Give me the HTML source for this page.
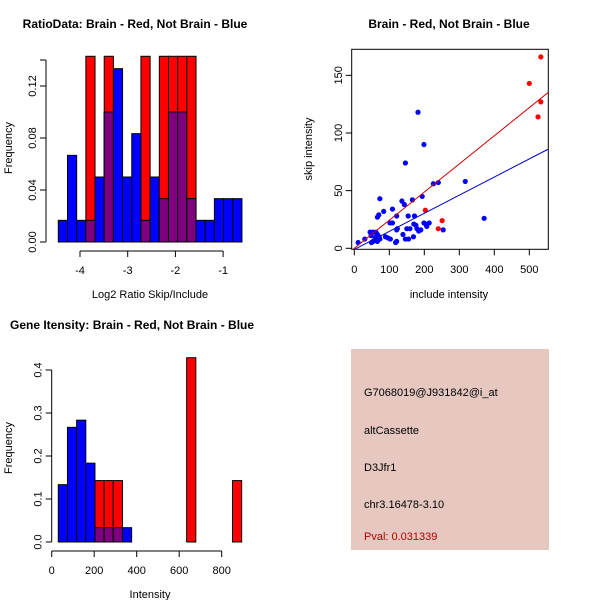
<!DOCTYPE html>
<html><head><meta charset="utf-8"><style>
body{margin:0;background:#fff}
svg text{font-family:"Liberation Sans",sans-serif;font-size:11px;fill:#000}
.t{font-weight:bold;font-size:12px}
</style></head><body>
<svg id="s" width="600" height="600" xmlns="http://www.w3.org/2000/svg">
<text class="t" x="135" y="28" text-anchor="middle">RatioData: Brain - Red, Not Brain - Blue</text>
<text class="t" x="449" y="28" text-anchor="middle">Brain - Red, Not Brain - Blue</text>
<text class="t" x="10" y="329">Gene Itensity: Brain - Red, Not Brain - Blue</text>
<text x="150" y="298" text-anchor="middle">Log2 Ratio Skip/Include</text>
<text transform="translate(12,148) rotate(-90)" text-anchor="middle">Frequency</text>
<text x="449" y="298" text-anchor="middle">include intensity</text>
<text transform="translate(312,149) rotate(-90)" text-anchor="middle">skip intensity</text>
<text x="150" y="598" text-anchor="middle">Intensity</text>
<text transform="translate(12,448) rotate(-90)" text-anchor="middle">Frequency</text>
<g>
<rect x="351" y="349" width="198" height="201" fill="#e6c8c1"/>
<text x="364" y="396">G7068019@J931842@i_at</text>
<text x="364" y="434">altCassette</text>
<text x="364" y="471">D3Jfr1</text>
<text x="364" y="508">chr3.16478-3.10</text>
<text x="364" y="540" style="fill:#b00000">Pval: 0.031339</text>
</g>
</svg>
<script>
// ratio histogram data
const ratioBreaksStart = -4.455, ratioBinW = 0.1925;
const ratioBlue = [1,4,1,1,3,6,8,3,5,1,3,2,6,6,2,1,1,2,2,2].map(v=>v/60);
const ratioRed = [0,0,0,1,0,1,0,0,0,1,0,1,1,1,1,0,0,0,0,0].map(v=>v/7);
const ratioYTicks = [0,0.04,0.08,0.12];
const ratioXTicks = [-4,-3,-2,-1];
// intensity histogram data
const intStart = 31, intBinW = 43.15;
const intBlue = [8,16,17,11,2,2,2,2,0,0,0,0,0,0,0,0,0,0,0,0].map(v=>v/60);
const intRed = [0,0,0,0,1,1,1,0,0,0,0,0,0,0,3,0,0,0,0,1].map(v=>v/7);
const intYTicks = [0,0.1,0.2,0.3,0.4];
const intXTicks = [0,200,400,600,800];
// scatter data
const redX = [500,533,533,525,203,251,240];
const redY = [143,166,127,114,33,24,17];
const blueX = [182,199,146,73,226,240,317,371,254,194,136,143,166,84,109,70,66,121,154,172,102,109,123,121,150,159,170,176,179,184,190,199,207,214,204,169,139,146,155,121,118,89,96,103,11,30,48,53,62,66,71,60,69,54,49,73,58,45,66,64];
const blueY = [118,90,74,43,56,57,58,26,16,45,41,38,42,32,34,29,27,28,28,28,22,22,17,16,17,17,21,20,17,15,16,22,19,22,21,10,12,8,8,6,5,10,9,8,5,8,11,14,14,12,10,9,8,6,5,8,7,14,6,11];
const redFit = [0, 0.244];
const blueFit = [-1, 0.157];
const sXTicks = [0,100,200,300,400,500];
const sYTicks = [0,50,100,150];

const S = document.getElementById('s');
const NS = 'http://www.w3.org/2000/svg';
function mk(tag, attrs){const e=document.createElementNS(NS,tag);for(const k in attrs)e.setAttribute(k,attrs[k]);S.appendChild(e);return e;}

function hist(o){
  const xs=v=>o.px0+(v-o.x0)*o.kx, ys=v=>o.py0-v*o.ky;
  for(let i=0;i<o.blue.length;i++){
    const l=xs(o.start+i*o.w), r=xs(o.start+(i+1)*o.w);
    const b=o.blue[i], rd=o.red[i];
    if(b>0){const e=mk('rect',{x:l,y:ys(b),width:r-l,height:ys(0)-ys(b),fill:'#0000ff',stroke:'#000','stroke-width':1});
      
      }
    if(rd>0){const e=mk('rect',{x:l,y:ys(rd),width:r-l,height:ys(0)-ys(rd),fill:'#ff0000',stroke:'#000','stroke-width':1});
      
      }
    const m=Math.min(b,rd);
    if(m>0){const e=mk('rect',{x:l,y:ys(m),width:r-l,height:ys(0)-ys(m),fill:'#7f007f',stroke:'#000','stroke-width':1});
      
      }
  }
  const ya=o.yt;
  mk('line',{x1:o.ax,y1:ys(ya[0]),x2:o.ax,y2:ys(o.ytop),stroke:'#000'});
  [...ya,o.ytop].forEach((t,j)=>{
    mk('line',{x1:o.ax-6,y1:ys(t),x2:o.ax,y2:ys(t),stroke:'#000'});
    if(j<ya.length){const e=mk('text',{transform:`translate(${o.ax-10},${ys(t)}) rotate(-90)`,'text-anchor':'middle'});e.textContent=o.yfmt(t);
      
      }
  });
  mk('line',{x1:xs(o.xt[0]),y1:o.ay,x2:xs(o.xt[o.xt.length-1]),y2:o.ay,stroke:'#000'});
  o.xt.forEach(t=>{
    mk('line',{x1:xs(t),y1:o.ay,x2:xs(t),y2:o.ay+6,stroke:'#000'});
    const e=mk('text',{x:xs(t),y:o.ay+23,'text-anchor':'middle'});e.textContent=t;
    
    
  });
}
hist({blue:ratioBlue,red:ratioRed,start:ratioBreaksStart,w:ratioBinW,px0:80,x0:-4,kx:47.7,py0:242,ky:1300,yt:ratioYTicks,ytop:0.14,yfmt:t=>t.toFixed(2),xt:ratioXTicks,ax:46,ay:251});
hist({blue:intBlue,red:intRed,start:intStart,w:intBinW,px0:51.7,x0:0,kx:170/800,py0:542,ky:430,yt:intYTicks,ytop:0.4,yfmt:t=>t.toFixed(1),xt:intXTicks,ax:51.7,ay:551});

// scatter
const sx=v=>354.3+v*0.35, sy=v=>248.3-v*1.153;
mk('rect',{x:351.7,y:49.3,width:196.6,height:200,fill:'none',stroke:'#000'});
const cp=mk('clipPath',{id:'cp'});const cr=document.createElementNS(NS,'rect');
cr.setAttribute('x',351.7);cr.setAttribute('y',49.3);cr.setAttribute('width',196.6);cr.setAttribute('height',200);cp.appendChild(cr);
for(let i=0;i<blueX.length;i++){const e=mk('circle',{cx:sx(blueX[i]),cy:sy(blueY[i]),r:2.6,fill:'#0000ff'});
  
  }
for(let i=0;i<redX.length;i++){const e=mk('circle',{cx:sx(redX[i]),cy:sy(redY[i]),r:2.6,fill:'#ff0000'});
  
  }
[[redFit,'#cc0000','red-fit-line'],[blueFit,'#0000cc','blue-fit-line']].forEach(([f,c,n])=>{
  const e=mk('line',{x1:sx(-10),y1:sy(f[0]+f[1]*-10),x2:sx(555),y2:sy(f[0]+f[1]*555),stroke:c,'clip-path':'url(#cp)'});
  
  
});
sXTicks.forEach(t=>{mk('line',{x1:sx(t),y1:249.3,x2:sx(t),y2:255.3,stroke:'#000'});
  const e=mk('text',{x:sx(t),y:273,'text-anchor':'middle'});e.textContent=t;
  
  });
sYTicks.forEach(t=>{mk('line',{x1:345.7,y1:sy(t),x2:351.7,y2:sy(t),stroke:'#000'});
  const e=mk('text',{transform:`translate(${342},${sy(t)}) rotate(-90)`,'text-anchor':'middle'});e.textContent=t;
  
  });
</script>
</body></html>
